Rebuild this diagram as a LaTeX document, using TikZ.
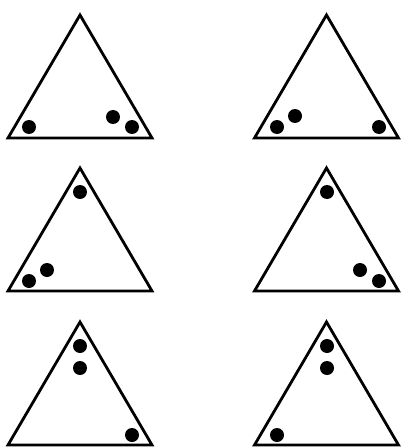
\documentclass[tikz,border=0pt]{standalone}
\usepackage{tikz}
\tikzset{
  triline/.style={line width=2.8pt, line join=miter, draw=black},
  ball/.style={fill=black},
}
\begin{document}
\begin{tikzpicture}[x=1pt, y=-1pt]
  \useasboundingbox (0,0) rectangle (400,447);
  % Triangles (apex x / apex y)
  \foreach \cx/\ay in {80/15, 326.5/15, 80/168, 326.5/168, 80/322, 326.5/322}
    \draw[triline] (\cx,\ay) -- ++(72,123) -- ++(-144,0) -- cycle;
  % Balls, top row
  \foreach \bx/\by in {29/127, 113/117, 132/127, 277/127, 295/116, 379/127}
    \fill[ball] (\bx,\by) circle[radius=7pt];
  % Balls, middle row
  \foreach \bx/\by in {80/192, 29/281, 47/270, 327/192, 360/270, 379/281}
    \fill[ball] (\bx,\by) circle[radius=7pt];
  % Balls, bottom row
  \foreach \bx/\by in {80/346, 80/368, 132/435, 327/346, 327/368, 277/435}
    \fill[ball] (\bx,\by) circle[radius=7pt];
\end{tikzpicture}
\end{document}
